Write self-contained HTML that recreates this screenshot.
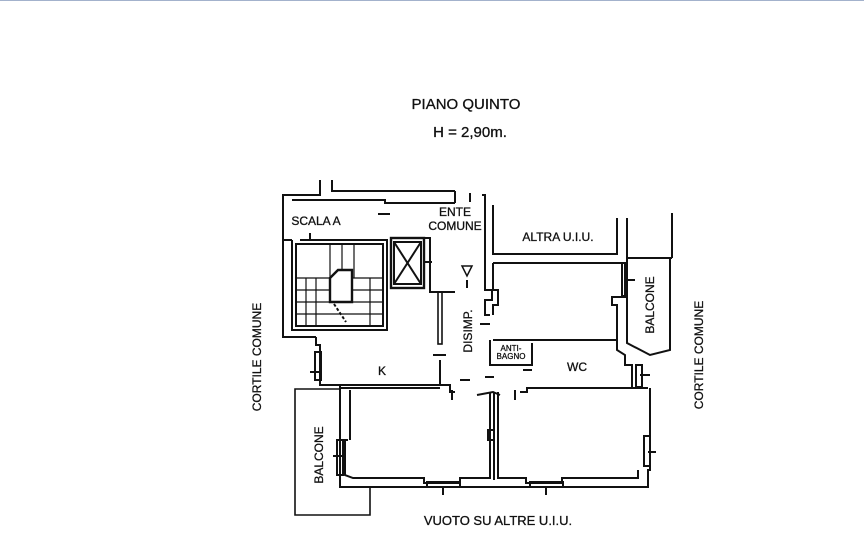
<!DOCTYPE html>
<html><head><meta charset="utf-8"><style>
html,body{margin:0;padding:0;background:#fff;}
body{width:864px;height:554px;overflow:hidden;position:relative;}
.top{position:absolute;left:0;top:0;width:864px;height:1px;background:#a3b2cc;}
svg{position:absolute;left:0;top:0;}
text{font-family:"Liberation Sans",sans-serif;fill:#111;stroke:#111;stroke-width:0.3;}
</style></head><body>
<div class="top"></div>
<svg width="864" height="554" viewBox="0 0 864 554">
<g fill="none" stroke="#111" stroke-width="2">
<polyline points="320,180 320,195 283,195 283,240 292,240"/>
<polyline points="332,180 332,191 455,191"/>
<polyline points="292,200 385,200 385,203 455,203"/>
<line x1="455" y1="191" x2="455" y2="203"/>
<polyline points="283,240 283,337 316,337"/>
<polyline points="292,240 292,330 387,330 387,240 300,240"/>
<rect x="296" y="244" width="87" height="82"/>
<g stroke-width="1.2">
<line x1="296" y1="278" x2="383" y2="278"/><line x1="296" y1="290" x2="383" y2="290"/><line x1="296" y1="302" x2="383" y2="302"/><line x1="296" y1="314" x2="383" y2="314"/>
<line x1="330" y1="244" x2="330" y2="278"/><line x1="342" y1="244" x2="342" y2="278"/><line x1="354" y1="244" x2="354" y2="278"/>
<line x1="306" y1="278" x2="306" y2="326"/><line x1="316" y1="278" x2="316" y2="326"/><line x1="370" y1="278" x2="370" y2="326"/>
</g>
<polygon points="330,278 338,270 352,270 352,302 330,302" fill="#fff" stroke-width="2.4"/>
<line x1="334" y1="304" x2="346" y2="322" stroke-dasharray="3,2"/>
<rect x="391" y="238" width="33" height="50" stroke-width="2.4"/>
<rect x="394" y="242" width="27" height="42"/>
<line x1="394" y1="242" x2="421" y2="284"/><line x1="421" y1="242" x2="394" y2="284"/>
<polyline points="424,238 430,238 430,292 455,292"/>
<line x1="424" y1="262" x2="432" y2="262"/>
<rect x="438" y="292" width="4" height="52" stroke-width="1.6"/>
<line x1="440" y1="360" x2="440" y2="384"/>
<line x1="433" y1="355" x2="446" y2="355"/>
<polyline points="482,195 485,195 485,290 492,290 492,300 485,300 485,315 490,315"/>
<line x1="470" y1="193" x2="470" y2="202"/>
<line x1="378" y1="214" x2="390" y2="214"/>
<line x1="310" y1="233" x2="310" y2="240"/>
<polyline points="493,205 493,254 617,254 617,218"/>
<line x1="627" y1="218" x2="627" y2="260"/>
<line x1="672" y1="213" x2="672" y2="258"/>
<line x1="627" y1="258" x2="672" y2="258"/>
<polyline points="493,263 625,263 625,297 612,297 612,305 617,305 617,340 493,340"/>
<polyline points="493,263 493,290 498,290 498,305 493,305 493,315"/>
<rect x="622" y="263" width="5" height="33"/>
<line x1="625" y1="280" x2="635" y2="280"/>
<polyline points="627,260 627,343 650,355 670,350 670,258"/>
<polyline points="490,340 490,365 532,365 532,343"/>
<polyline points="617,340 617,350 625,355 625,365 632,365 632,388"/>
<rect x="636" y="365" width="6" height="22"/>
<line x1="640" y1="375" x2="650" y2="375"/>
<line x1="480" y1="324" x2="490" y2="324"/>
<line x1="485" y1="377" x2="494" y2="377"/>
<line x1="460" y1="380" x2="470" y2="380"/>
<line x1="523" y1="370" x2="532" y2="370"/>
<polyline points="316,337 316,345 320,345 320,385 440,385"/>
<rect x="315" y="352" width="6" height="28"/>
<line x1="310" y1="372" x2="322" y2="372"/>
<line x1="452" y1="390" x2="452" y2="400"/>
<line x1="515" y1="390" x2="515" y2="400"/>
<polyline points="477,395 493,392 500,395"/>
<polyline points="520,392 527,392 527,388 648,388"/>
<polyline points="440,385 450,385 450,392 455,392"/>
<polyline points="320,385 340,385 340,388 440,388"/>
<line x1="350" y1="390" x2="350" y2="440"/>
<polyline points="340,388 340,487 648,487 648,470 650,470 650,388"/>
<polyline points="348,440 345,440 345,475 353,478 424,478 424,483 460,483 460,478 490,478 490,392"/>
<polyline points="498,392 498,478 526,478 526,483 562,483 562,478 638,478 638,470"/>
<line x1="494" y1="392" x2="494" y2="480"/>
<rect x="488" y="430" width="6" height="10"/>
<rect x="337" y="440" width="6" height="35"/>
<line x1="333" y1="456" x2="343" y2="456"/>
<rect x="644" y="436" width="6" height="30"/>
<line x1="648" y1="452" x2="656" y2="452"/>
<rect x="427" y="482" width="33" height="5"/><line x1="443" y1="487" x2="443" y2="495"/>
<rect x="530" y="482" width="33" height="5"/><line x1="546" y1="487" x2="546" y2="495"/>
<polyline points="340,389 295,389 295,515 370,515 370,487" stroke-width="1.6"/>
<polygon points="462,266 472,266 467,276" stroke-width="1.5"/>
<line x1="467" y1="280" x2="467" y2="288"/>
</g>
<text x="466" y="109" font-size="15" text-anchor="middle">PIANO QUINTO</text>
<text x="470" y="137" font-size="15" text-anchor="middle">H = 2,90m.</text>
<text x="316" y="225" font-size="12" text-anchor="middle">SCALA A</text>
<text x="455" y="216" font-size="12" text-anchor="middle">ENTE</text>
<text x="455" y="230" font-size="12" text-anchor="middle">COMUNE</text>
<text x="558" y="241" font-size="12" text-anchor="middle">ALTRA U.I.U.</text>
<text x="382" y="375" font-size="12" text-anchor="middle">K</text>
<text x="577" y="371" font-size="12" text-anchor="middle">WC</text>
<text x="511" y="351" font-size="8" text-anchor="middle">ANTI-</text>
<text x="511" y="359" font-size="8" text-anchor="middle">BAGNO</text>
<text x="498" y="525" font-size="13" text-anchor="middle">VUOTO SU ALTRE U.I.U.</text>
<text transform="translate(472,331) rotate(-90)" font-size="12" text-anchor="middle">DISIMP.</text>
<text transform="translate(654,305) rotate(-90)" font-size="12" text-anchor="middle">BALCONE</text>
<text transform="translate(323,455) rotate(-90)" font-size="12" text-anchor="middle">BALCONE</text>
<text transform="translate(261,357) rotate(-90)" font-size="12" text-anchor="middle">CORTILE COMUNE</text>
<text transform="translate(703,355) rotate(-90)" font-size="12" text-anchor="middle">CORTILE COMUNE</text>
</svg>
</body></html>
